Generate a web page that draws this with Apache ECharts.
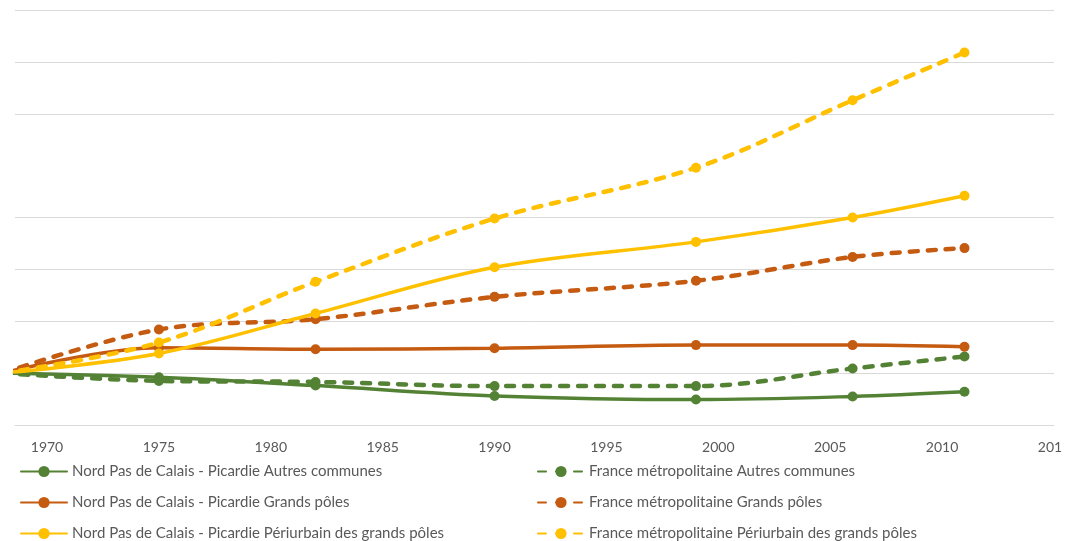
<!DOCTYPE html>
<html><head><meta charset="utf-8">
<script src="https://cdn.jsdelivr.net/npm/echarts@6/dist/echarts.min.js"></script>
<style>html,body{margin:0;padding:0;background:#fff;overflow:hidden;} #c{width:1062px;height:541px;}</style>
</head><body><div id="c"></div>
<script>
const years = [1968, 1975, 1982, 1990, 1999, 2006, 2011];
const tickYears = [1970, 1975, 1980, 1985, 1990, 1995, 2000, 2005, 2010, 2015];
const npAutres   = [100, 99.2, 97.6, 95.6, 94.9, 95.5, 96.4];
const frAutres   = [100, 98.5, 98.3, 97.5, 97.5, 100.9, 103.2];
const npGrands   = [100, 104.9, 104.6, 104.8, 105.4, 105.4, 105.1];
const frGrands   = [100, 108.4, 110.4, 114.7, 117.8, 122.4, 124.1];
const npPeri     = [100, 103.8, 111.5, 120.4, 125.3, 130.0, 134.2];
const frPeri     = [100, 105.9, 117.6, 129.8, 139.6, 152.6, 161.8];
const names = {
  npAutres: 'Nord Pas de Calais - Picardie Autres communes',
  frAutres: 'France métropolitaine Autres communes',
  npGrands: 'Nord Pas de Calais - Picardie Grands pôles',
  frGrands: 'France métropolitaine Grands pôles',
  npPeri: 'Nord Pas de Calais - Picardie Périurbain des grands pôles',
  frPeri: 'France métropolitaine Périurbain des grands pôles'
};
const GREEN = '#548235', ORANGE = '#C55A11', YELLOW = '#FFC000';
function ser(name, arr, color, dashed) {
  return {
    name: name, type: 'line', smooth: 0.35,
    data: years.map((y, i) => [y, arr[i]]),
    symbol: 'circle', symbolSize: 10, showSymbol: true,
    itemStyle: { color: color },
    lineStyle: { color: color, width: dashed ? 4.5 : 3.5, type: dashed ? [8, 10] : 'solid', cap: 'round' },
    clip: true
  };
}
const gridColors = ['#d9d9d9','#d9d9d9','#d9d9d9','#d9d9d9','#d9d9d9','rgba(0,0,0,0)','#d9d9d9','#d9d9d9','#d9d9d9'];
const chart = echarts.init(document.getElementById('c'));
const font = 'Lato';
const txt = { color: '#595959', fontSize: 15, fontFamily: font };
function leg(name, left, centerY) {
  return { orient: 'horizontal', left: left, top: centerY - 6, padding: 0, itemWidth: 46, itemHeight: 14,
    textStyle: txt, data: [name] };
}
chart.setOption({
  animation: false,
  backgroundColor: '#fff',
  grid: { left: 15, right: 8, top: 10, bottom: 116, outerBoundsMode: 'none', containLabel: false },
  xAxis: {
    type: 'value', min: 1968.57, max: 2015,
    axisLine: { show: true, lineStyle: { color: '#d9d9d9', width: 1 } },
    axisTick: { show: false },
    splitLine: { show: false },
    axisLabel: { customValues: tickYears, formatter: v => String(v), color: '#595959', fontSize: 14, fontFamily: font, margin: 15, showMinLabel: true, showMaxLabel: true, hideOverlap: false }
  },
  yAxis: {
    type: 'value', min: 90, max: 170, interval: 10,
    axisLine: { show: false }, axisTick: { show: false }, axisLabel: { show: false },
    splitLine: { show: true, lineStyle: { color: gridColors, width: 1 } }
  },
  legend: [
    leg(names.npAutres, 20, 470),
    leg(names.npGrands, 20, 501),
    leg(names.npPeri, 20, 532),
    leg(names.frAutres, 537, 470),
    leg(names.frGrands, 537, 501),
    leg(names.frPeri, 537, 532)
  ],
  series: [
    ser(names.npAutres, npAutres, GREEN, false),
    ser(names.frAutres, frAutres, GREEN, true),
    ser(names.npGrands, npGrands, ORANGE, false),
    ser(names.frGrands, frGrands, ORANGE, true),
    ser(names.npPeri, npPeri, YELLOW, false),
    ser(names.frPeri, frPeri, YELLOW, true)
  ]
});
</script></body></html>
